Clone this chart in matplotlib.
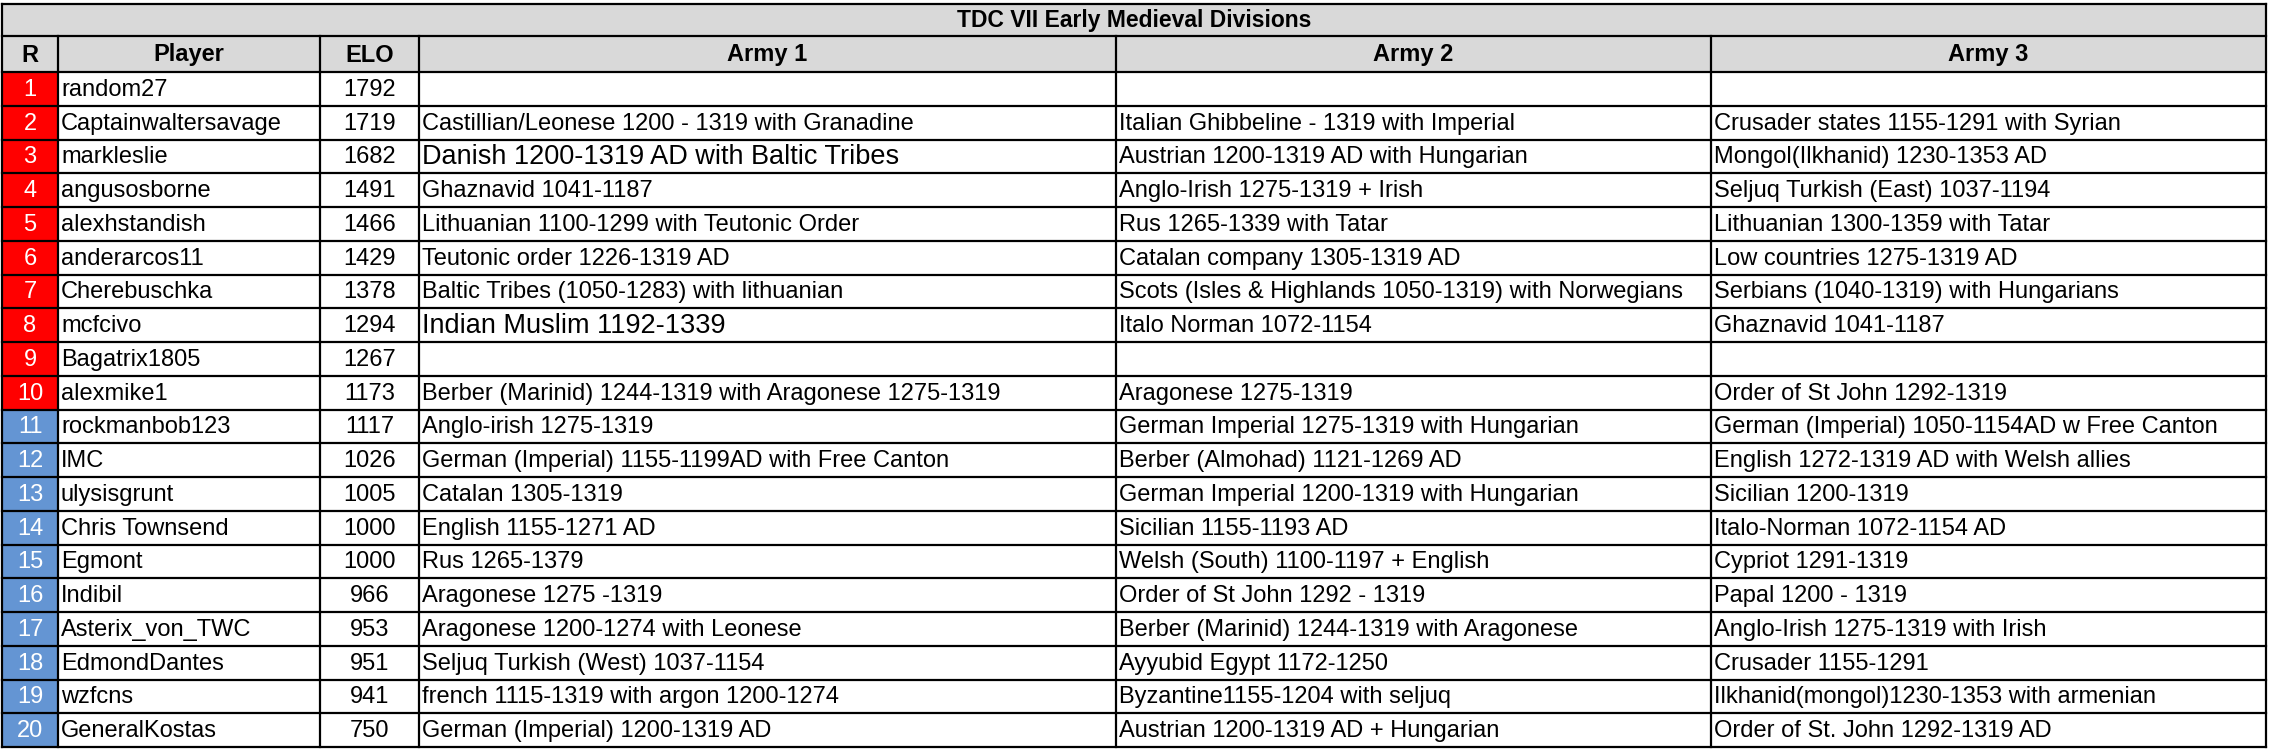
import matplotlib
matplotlib.use("Agg")
import matplotlib.pyplot as plt
from matplotlib.patches import Rectangle

TITLE = "TDC VII Early Medieval Divisions"
headers = ["R", "Player", "ELO", "Army 1", "Army 2", "Army 3"]
ranks = list(range(1, 21))
players = ["random27", "Captainwaltersavage", "markleslie", "angusosborne", "alexhstandish",
           "anderarcos11", "Cherebuschka", "mcfcivo", "Bagatrix1805", "alexmike1",
           "rockmanbob123", "IMC", "ulysisgrunt", "Chris Townsend", "Egmont",
           "Indibil", "Asterix_von_TWC", "EdmondDantes", "wzfcns", "GeneralKostas"]
elo = [1792, 1719, 1682, 1491, 1466, 1429, 1378, 1294, 1267, 1173,
       1117, 1026, 1005, 1000, 1000, 966, 953, 951, 941, 750]
army1 = ["", "Castillian/Leonese 1200 - 1319 with Granadine", "Danish 1200-1319 AD with Baltic Tribes",
         "Ghaznavid 1041-1187", "Lithuanian 1100-1299 with Teutonic Order", "Teutonic order 1226-1319 AD",
         "Baltic Tribes (1050-1283) with lithuanian", "Indian Muslim 1192-1339", "",
         "Berber (Marinid) 1244-1319 with Aragonese 1275-1319", "Anglo-irish 1275-1319",
         "German (Imperial) 1155-1199AD with Free Canton", "Catalan 1305-1319", "English 1155-1271 AD",
         "Rus 1265-1379", "Aragonese 1275 -1319", "Aragonese 1200-1274 with Leonese",
         "Seljuq Turkish (West) 1037-1154", "french 1115-1319 with argon 1200-1274",
         "German (Imperial) 1200-1319 AD"]
army2 = ["", "Italian Ghibbeline - 1319 with Imperial", "Austrian 1200-1319 AD with Hungarian",
         "Anglo-Irish 1275-1319 + Irish", "Rus 1265-1339 with Tatar", "Catalan company 1305-1319 AD",
         "Scots (Isles & Highlands 1050-1319) with Norwegians", "Italo Norman 1072-1154", "",
         "Aragonese 1275-1319", "German Imperial 1275-1319 with Hungarian", "Berber (Almohad) 1121-1269 AD",
         "German Imperial 1200-1319 with Hungarian", "Sicilian 1155-1193 AD", "Welsh (South) 1100-1197 + English",
         "Order of St John 1292 - 1319", "Berber (Marinid) 1244-1319 with Aragonese", "Ayyubid Egypt 1172-1250",
         "Byzantine1155-1204 with seljuq", "Austrian 1200-1319 AD + Hungarian"]
army3 = ["", "Crusader states 1155-1291 with Syrian", "Mongol(Ilkhanid) 1230-1353 AD",
         "Seljuq Turkish (East) 1037-1194", "Lithuanian 1300-1359 with Tatar", "Low countries 1275-1319 AD",
         "Serbians (1040-1319) with Hungarians", "Ghaznavid 1041-1187", "", "Order of St John 1292-1319",
         "German (Imperial) 1050-1154AD w Free Canton", "English 1272-1319 AD with Welsh allies",
         "Sicilian 1200-1319", "Italo-Norman 1072-1154 AD", "Cypriot 1291-1319", "Papal 1200 - 1319",
         "Anglo-Irish 1275-1319 with Irish", "Crusader 1155-1291", "Ilkhanid(mongol)1230-1353 with armenian",
         "Order of St. John 1292-1319 AD"]
big_cells = {(2, 3), (7, 3)}  # (row, col) drawn in larger font

W, H = 2273, 751
col_x = [2, 58, 320, 419, 1116, 1711, 2266]
title_h, head_h = 32, 36
y0 = 4
row_h = (747 - y0 - title_h - head_h) / 20

fig = plt.figure(figsize=(W / 100, H / 100), dpi=100)
ax = fig.add_axes([0, 0, 1, 1])
ax.set_xlim(0, W); ax.set_ylim(H, 0); ax.axis("off")
font = "Liberation Sans"
FS = 17

ax.add_patch(Rectangle((col_x[0], y0), col_x[-1] - col_x[0], title_h + head_h, fc="#d9d9d9", ec="none"))
ax.text((col_x[0] + col_x[-1]) / 2, y0 + title_h / 2 + 1, TITLE, ha="center", va="center",
        fontsize=16.5, fontweight="bold", family=font)
hy = y0 + title_h
for i, h in enumerate(headers):
    ax.text((col_x[i] + col_x[i + 1]) / 2, hy + head_h / 2 + 1, h, ha="center", va="center",
            fontsize=17, fontweight="bold", family=font)

top = hy + head_h
for r in range(20):
    y = top + r * row_h
    ax.add_patch(Rectangle((col_x[0], y), col_x[1] - col_x[0], row_h,
                           fc="#ff0000" if ranks[r] <= 10 else "#6495d3", ec="none"))
    cy = y + row_h / 2 + 1
    ax.text((col_x[0] + col_x[1]) / 2, cy, str(ranks[r]), ha="center", va="center",
            fontsize=FS, color="white", family=font)
    ax.text(col_x[1] + 3, cy, players[r], ha="left", va="center", fontsize=FS, family=font)
    ax.text((col_x[2] + col_x[3]) / 2, cy, str(elo[r]), ha="center", va="center", fontsize=FS, family=font)
    for c, arr in zip((3, 4, 5), (army1, army2, army3)):
        fs = 19.5 if (r, c) in big_cells else FS
        ax.text(col_x[c] + 3, cy, arr[r], ha="left", va="center", fontsize=fs, family=font)

bottom = top + 20 * row_h
lw = 1.6
ax.plot([col_x[0], col_x[-1]], [y0, y0], color="black", lw=lw)
ax.plot([col_x[0], col_x[-1]], [hy, hy], color="black", lw=lw)
for r in range(21):
    y = top + r * row_h
    ax.plot([col_x[0], col_x[-1]], [y, y], color="black", lw=lw)
for i, x in enumerate(col_x):
    ax.plot([x, x], [hy if 0 < i < 6 else y0, bottom], color="black", lw=lw)

fig.savefig("out.png", dpi=100, facecolor="white")
